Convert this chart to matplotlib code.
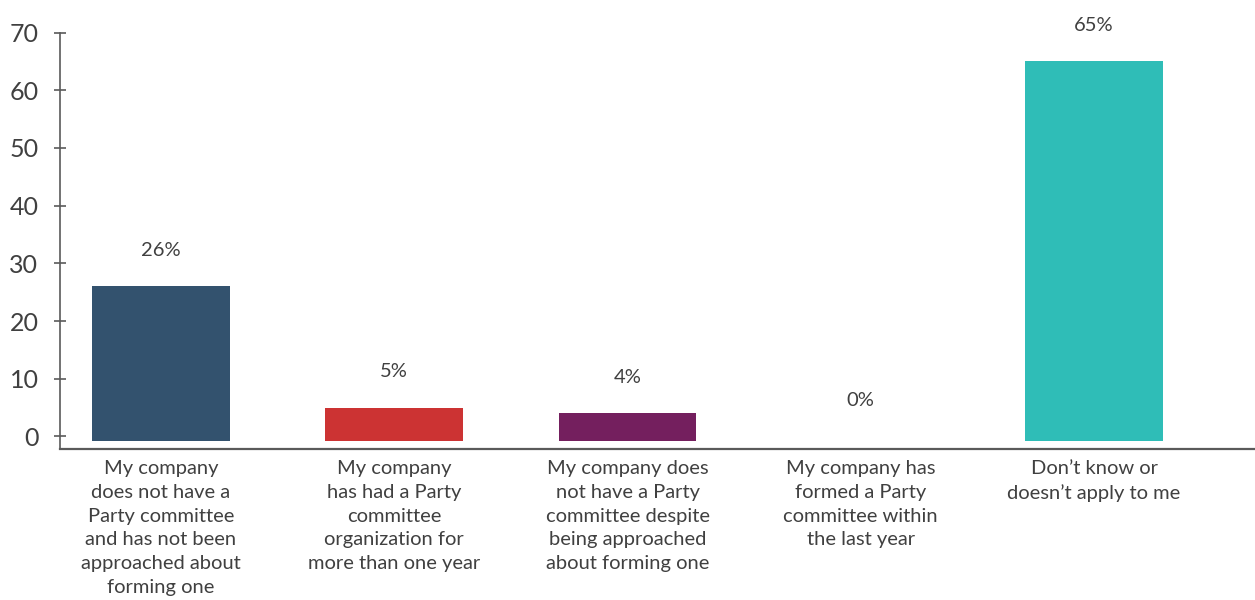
import matplotlib
matplotlib.use("Agg")
import matplotlib.pyplot as plt
import numpy as np

# Survey responses (% of respondents)
categories = [
    "My company\ndoes not have a\nParty committee\nand has not been\napproached about\nforming one",
    "My company\nhas had a Party\ncommittee\norganization for\nmore than one year",
    "My company does\nnot have a Party\ncommittee despite\nbeing approached\nabout forming one",
    "My company has\nformed a Party\ncommittee within\nthe last year",
    "Don\u2019t know or\ndoesn\u2019t apply to me",
]
values = [26, 5, 4, 0, 65]
value_labels = ["26%", "5%", "4%", "0%", "65%"]
y_ticks = [0, 10, 20, 30, 40, 50, 60, 70]

colors = ["#33526E", "#CC3333", "#741F5E", "#FFFFFF", "#2FBDB7"]
text_color = "#404040"
axis_color = "#5A5A5A"

plt.rcParams["font.family"] = ["Lato", "DejaVu Sans"]

fig = plt.figure(figsize=(12.55, 6.0), dpi=100)
ax = fig.add_axes([0.0478, 0.2517, 0.9522, 0.6941])

x = np.arange(len(values))
base = -0.8
ax.bar(x, np.array(values) - base, bottom=base, width=0.59,
       color=colors, edgecolor="none", zorder=2)

for xi, v, lab in zip(x, values, value_labels):
    ax.annotate(lab, (xi, v), xytext=(0, 26), textcoords="offset points",
                ha="center", va="center", fontsize=14.5, color=text_color)

ax.set_xlim(-0.433, 4.69)
ax.set_ylim(-2.17, 70)

ax.set_yticks(y_ticks)
ax.set_yticklabels([str(t) for t in y_ticks])
ax.tick_params(axis="y", direction="inout", length=9, width=1.2,
               color=axis_color, labelsize=18, labelcolor=text_color, pad=11)

ax.set_xticks(x)
ax.set_xticklabels(categories, fontsize=14.5, color=text_color, linespacing=1.48)
ax.tick_params(axis="x", length=0, pad=8)

for side in ("top", "right"):
    ax.spines[side].set_visible(False)
ax.spines["left"].set_color(axis_color)
ax.spines["left"].set_linewidth(1.2)
ax.spines["bottom"].set_color(axis_color)
ax.spines["bottom"].set_linewidth(1.6)
ax.spines["left"].set_bounds(-2.17, 70)

fig.savefig("out.png", dpi=100, facecolor="white")
